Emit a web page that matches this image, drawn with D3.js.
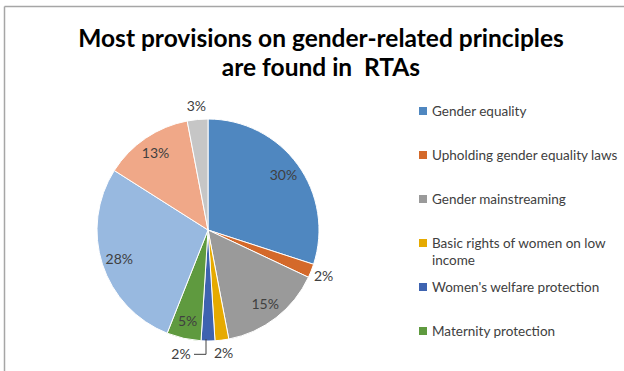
<!DOCTYPE html>
<html>
<head>
<meta charset="utf-8">
<script src="https://cdn.jsdelivr.net/npm/d3@7"></script>
<style>
  body { margin: 0; background: #fff; }
  svg { display: block; font-family: Lato, "Liberation Sans", sans-serif; }
</style>
</head>
<body>
<svg width="624" height="371"></svg>
<script>
// slices in the order Excel draws them (clockwise from 12 o'clock)
const categories = [
    "Gender equality",
    "Upholding gender equality laws",
    "Gender mainstreaming",
    "Basic rights of women on low income",
    "Women's welfare protection",
    "Maternity protection",
    "Other 1",
    "Other 2",
    "Other 3"
];
const shares = [30, 2, 15, 2, 2, 5, 28, 13, 3];
const colors = ["#4f87c0", "#d4692a", "#9a9a9a", "#e6aa00", "#3e63b0", "#5f9a3f", "#98b9e0", "#f0a888", "#c6c6c6"];
// only these show in the legend (the rest is cut off in the original)
const legendItems = categories.slice(0, 6);

const titleLines = ["Most provisions on gender-related principles", "are found in  RTAs"];

let svg = d3.select("svg");

// frame of the chart area (only top and left edges show)
svg.append("line").attr("x1", 4.5).attr("y1", 6.5).attr("x2", 624).attr("y2", 6.5)
    .style("stroke", "#a6a6a6").style("stroke-width", 1.5);
svg.append("line").attr("x1", 4.5).attr("y1", 6.5).attr("x2", 4.5).attr("y2", 371)
    .style("stroke", "#a6a6a6").style("stroke-width", 1.5);

// title
svg.append("text")
    .attr("x", 322)
    .attr("text-anchor", "middle")
    .style("font-size", "24.5px")
    .style("font-weight", "bold")
    .style("white-space", "pre")
    .style("fill", "#000")
    .selectAll("tspan")
    .data(titleLines)
    .enter()
    .append("tspan")
    .attr("x", 321)
    .attr("y", (d, i) => 47 + i * 29)
    .text(d => d);

const cx = 208, cy = 230, r = 111;

let pie = d3.pie().sort(null).value(d => d)(shares);
let arc = d3.arc().innerRadius(0).outerRadius(r);
let inArc = d3.arc().innerRadius(r * 0.84).outerRadius(r * 0.84);
let outArc = d3.arc().innerRadius(r * 1.12).outerRadius(r * 1.12);
let edgeArc = d3.arc().innerRadius(r).outerRadius(r);

let g = svg.append("g").attr("transform", `translate(${cx}, ${cy})`);

g.selectAll("path")
    .data(pie)
    .enter()
    .append("path")
    .attr("d", arc)
    .style("fill", (d, i) => colors[i])
    .style("stroke", "#fff")
    .style("stroke-width", 1);

// labels: small slices go outside
g.selectAll(".lbl")
    .data(pie)
    .enter()
    .append("text")
    .attr("class", "lbl")
    .attr("transform", (d, i) => {
        let p = d.data >= 5 ? inArc.centroid(d) : outArc.centroid(d);
        if (i == 4) p = [p[0] - 27, p[1]]; // pushed aside by neighbour label
        return `translate(${p[0]}, ${p[1]})`;
    })
    .attr("text-anchor", "middle")
    .attr("dy", "0.35em")
    .style("font-size", "14px")
    .style("fill", "#404040")
    .text(d => d.data + "%");

// leader line for the shifted label
let e = edgeArc.centroid(pie[4]);
let o = outArc.centroid(pie[4]);
g.append("path")
    .attr("d", `M${e[0] - 2},${e[1] - 2}L${e[0] - 2},${o[1]}L${o[0] - 14},${o[1]}`)
    .style("fill", "none")
    .style("stroke", "#404040")
    .style("stroke-width", 1);

// legend
let leg = svg.append("g").attr("transform", "translate(419, 111)");
let rows = leg.selectAll("g")
    .data(legendItems)
    .enter()
    .append("g")
    .attr("transform", (d, i) => `translate(0, ${i * 44})`);

rows.append("rect")
    .attr("x", 0).attr("y", -4)
    .attr("width", 8).attr("height", 8)
    .style("fill", (d, i) => colors[i]);

rows.append("text")
    .attr("x", 13)
    .attr("dy", "0.35em")
    .style("font-size", "13.5px")
    .style("fill", "#404040")
    .each(function (d) {
        // wrap the long label like Excel does
        let t = d3.select(this);
        if (d.length > 32) {
            let cut = d.lastIndexOf(" ");
            t.append("tspan").attr("x", 13).attr("y", 0).text(d.slice(0, cut));
            t.append("tspan").attr("x", 13).attr("y", 17).text(d.slice(cut + 1));
            t.attr("dy", null).selectAll("tspan").attr("dy", "0.35em");
        } else {
            t.text(d);
        }
    });
</script>
</body>
</html>
